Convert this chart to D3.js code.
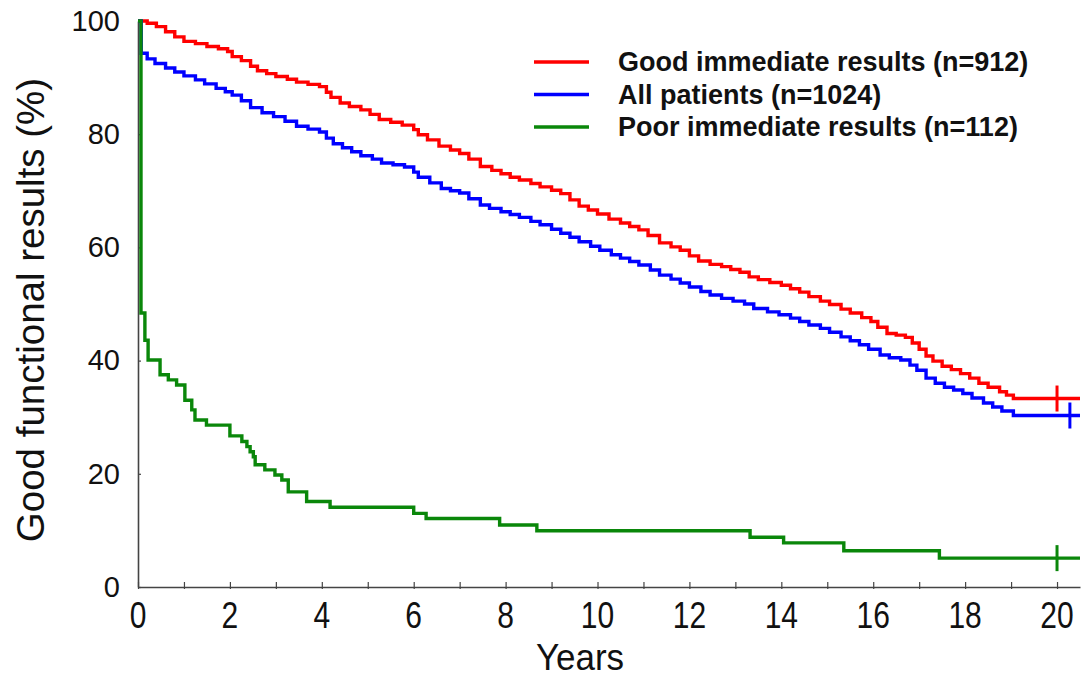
<!DOCTYPE html>
<html>
<head>
<meta charset="utf-8">
<script src="https://cdn.jsdelivr.net/npm/d3@7"></script>
<style>
  body { margin: 0; background: #fff; }
  svg { display: block; font-family: "Liberation Sans", Arial, sans-serif; }
</style>
</head>
<body>
<svg id="chart" width="1081" height="694"></svg>
<script>
// Kaplan-Meier style curves (time in years, value in %)
const goodT = [0, 0.2, 0.4, 0.6, 0.8, 1.0, 1.25, 1.5, 1.75, 1.95, 2.05, 2.25, 2.45, 2.6, 2.8, 3.0, 3.25, 3.45, 3.7, 3.95,
  4.1, 4.2, 4.4, 4.6, 4.85, 5.05, 5.25, 5.5, 5.75, 6.0, 6.1, 6.3, 6.55, 6.8, 7.0, 7.2, 7.45, 7.7, 7.9, 8.1,
  8.3, 8.55, 8.75, 9.0, 9.2, 9.4, 9.6, 9.8, 10.0, 10.25, 10.5, 10.7, 10.9, 11.1, 11.35, 11.6, 11.8, 12.0, 12.2, 12.45,
  12.7, 12.9, 13.1, 13.3, 13.5, 13.75, 14.0, 14.2, 14.4, 14.6, 14.85, 15.05, 15.3, 15.5, 15.75, 15.95, 16.1, 16.3, 16.5, 16.7,
  16.85, 17.0, 17.15, 17.3, 17.5, 17.7, 17.9, 18.1, 18.3, 18.5, 18.75, 18.9, 19.05, 20.5];
const goodV = [100, 99.6, 99.0, 98.1, 97.2, 96.4, 96.0, 95.5, 95.1, 94.6, 93.7, 93.0, 92.0, 91.2, 90.7, 90.2, 89.7, 89.2, 88.8, 88.4,
  87.4, 86.5, 85.5, 84.9, 84.3, 83.5, 82.6, 82.1, 81.6, 80.8, 79.9, 79.0, 77.9, 77.2, 76.6, 75.6, 74.3, 73.6, 73.0, 72.4,
  71.9, 71.3, 70.7, 70.1, 69.5, 68.4, 67.3, 66.6, 65.9, 65.0, 64.3, 63.7, 63.1, 62.1, 60.8, 60.1, 59.5, 58.5, 57.6, 57.0,
  56.6, 56.1, 55.6, 54.8, 54.3, 53.8, 53.3, 52.7, 52.1, 51.3, 50.5, 49.9, 49.1, 48.4, 47.6, 46.9, 45.9, 44.8, 44.5, 44.1,
  43.1, 42.0, 40.8, 39.9, 39.0, 38.4, 37.7, 36.9, 36.0, 35.3, 34.5, 33.9, 33.3, 33.3];

const allT = [0, 0.07, 0.2, 0.37, 0.6, 0.8, 1.0, 1.25, 1.45, 1.7, 1.9, 2.05, 2.25, 2.45, 2.7, 2.95, 3.2, 3.45, 3.7, 3.95,
  4.1, 4.25, 4.45, 4.65, 4.85, 5.1, 5.3, 5.55, 5.8, 6.0, 6.1, 6.35, 6.6, 6.8, 7.0, 7.2, 7.45, 7.65, 7.9, 8.1,
  8.3, 8.55, 8.75, 9.0, 9.2, 9.4, 9.6, 9.85, 10.05, 10.3, 10.5, 10.7, 10.9, 11.15, 11.35, 11.6, 11.8, 12.0, 12.25, 12.45,
  12.7, 12.95, 13.2, 13.4, 13.7, 13.95, 14.2, 14.4, 14.6, 14.85, 15.05, 15.3, 15.5, 15.7, 15.9, 16.15, 16.35, 16.6, 16.8, 16.95,
  17.15, 17.35, 17.55, 17.75, 17.95, 18.15, 18.4, 18.6, 18.8, 19.05, 20.5];
const allV = [100, 94.3, 93.3, 92.5, 91.7, 91.0, 90.3, 89.6, 88.9, 88.1, 87.5, 86.9, 85.9, 84.7, 83.8, 83.1, 82.3, 81.4, 80.9, 80.4,
  79.3, 78.3, 77.6, 76.9, 76.2, 75.6, 74.9, 74.6, 74.2, 73.3, 72.4, 71.4, 70.4, 70.0, 69.6, 68.6, 67.5, 66.9, 66.3, 65.8,
  65.3, 64.6, 64.0, 63.2, 62.5, 61.8, 61.0, 60.2, 59.5, 58.7, 58.1, 57.5, 56.9, 56.0, 55.1, 54.4, 53.7, 53.0, 52.2, 51.6,
  51.0, 50.5, 50.0, 49.2, 48.6, 48.1, 47.5, 46.9, 46.3, 45.7, 45.0, 44.2, 43.5, 42.8, 42.0, 41.0, 40.5, 40.1, 39.2, 38.3,
  36.9, 36.0, 35.3, 34.8, 34.2, 33.4, 32.5, 31.8, 31.1, 30.3, 30.3];

const poorT = [0, 0.065, 0.15, 0.22, 0.48, 0.66, 0.84, 1.02, 1.17, 1.24, 1.49, 2.0, 2.26, 2.37, 2.44, 2.51, 2.55, 2.76, 2.98, 3.13,
  3.27, 3.67, 4.18, 6.0, 6.27, 7.87, 8.68, 13.32, 14.05, 15.36, 17.44, 20.5];
const poorV = [100, 48.4, 43.6, 40.1, 37.5, 36.6, 35.7, 33.0, 31.3, 29.5, 28.6, 26.7, 25.7, 24.8, 23.9, 23.0, 21.6, 20.7, 19.8, 18.9,
  16.8, 15.1, 14.1, 13.0, 12.1, 10.95, 9.95, 8.8, 7.8, 6.4, 5.1, 5.1];

const seriesNames = ["Good immediate results (n=912)", "All patients (n=1024)", "Poor immediate results (n=112)"];
const seriesColors = ["#ff0000", "#0000ff", "#0a870a"];
const censorT = [20.0, 20.28, 20.0];   // last censored observation mark
const xTicks = d3.range(0, 21, 1);
const xLabels = d3.range(0, 21, 2);
const yTicks = [0, 20, 40, 60, 80, 100];

const series = [
  { t: goodT, v: goodV },
  { t: allT, v: allV },
  { t: poorT, v: poorV }
].map((s, i) => ({
  name: seriesNames[i],
  color: seriesColors[i],
  censor: censorT[i],
  points: s.t.map((t, j) => ({ t, v: s.v[j] }))
}));

const svg = d3.select("#chart");

const x = d3.scaleLinear().domain([0, 20.5]).range([138, 1080]);
const y = d3.scaleLinear().domain([0, 100]).range([587, 21]);

// X axis
const xAxis = svg.append("g")
  .attr("transform", `translate(0,${y(0)})`)
  .call(d3.axisBottom(x).tickValues(xTicks).tickSizeInner(-5).tickSizeOuter(0).tickFormat(""));
xAxis.select(".domain").attr("stroke", "#444").attr("stroke-width", 1.6);
xAxis.selectAll(".tick line").attr("stroke", "#444").attr("stroke-width", 1.2).attr("y1", 2);

// tick labels look a bit stretched vertically in the original
svg.append("g").selectAll("text")
  .data(xLabels)
  .enter().append("text")
  .attr("transform", d => `translate(${x(d)},628) scale(1,1.25)`)
  .attr("text-anchor", "middle")
  .style("font-size", "30px")
  .style("fill", "#111")
  .text(d => d);

// Y axis
const yAxis = svg.append("g")
  .attr("transform", `translate(${x(0)},0)`)
  .call(d3.axisLeft(y).tickValues(yTicks).tickSizeInner(4).tickSizeOuter(0).tickPadding(14));
yAxis.select(".domain").attr("stroke", "#444").attr("stroke-width", 1.6);
yAxis.selectAll(".tick line").attr("stroke", "#444").attr("stroke-width", 1.2).attr("x2", 3);
yAxis.selectAll(".tick text")
  .style("font-size", "29px")
  .style("font-family", "'Liberation Sans', Arial, sans-serif")
  .attr("fill", "#111");

// axis titles
svg.append("text")
  .attr("transform", "translate(580,670) scale(1.03,1.1)")
  .attr("text-anchor", "middle")
  .style("font-size", "34px")
  .style("fill", "#111")
  .text("Years");

svg.append("text")
  .attr("transform", `translate(44,${(y(0) + y(100)) / 2 + 6}) rotate(-90)`)
  .attr("text-anchor", "middle")
  .style("font-size", "38.5px")
  .style("fill", "#111")
  .text("Good functional results (%)");

// curves
const line = d3.line()
  .x(d => x(d.t))
  .y(d => y(d.v))
  .curve(d3.curveStepAfter);

const curves = svg.append("g");
series.forEach(s => {
  curves.append("path")
    .datum(s.points)
    .attr("fill", "none")
    .attr("stroke", s.color)
    .attr("stroke-width", 3.4)
    .attr("d", line);

  // censor tick at end of follow-up
  const last = s.points[s.points.length - 1];
  curves.append("line")
    .attr("x1", x(s.censor)).attr("x2", x(s.censor))
    .attr("y1", y(last.v) - 13).attr("y2", y(last.v) + 13)
    .attr("stroke", s.color)
    .attr("stroke-width", 3);
});

// legend
const legend = svg.append("g").attr("transform", "translate(534,62)");
series.forEach((s, i) => {
  const row = legend.append("g").attr("transform", `translate(0,${i * 32.5})`);
  row.append("line")
    .attr("x1", 0).attr("x2", 55)
    .attr("stroke", s.color)
    .attr("stroke-width", 3.4);
  row.append("text")
    .attr("x", 84)
    .attr("y", 9)
    .style("font-size", "27px")
    .style("font-weight", "bold")
    .style("fill", "#111")
    .text(s.name);
});
</script>
</body>
</html>
